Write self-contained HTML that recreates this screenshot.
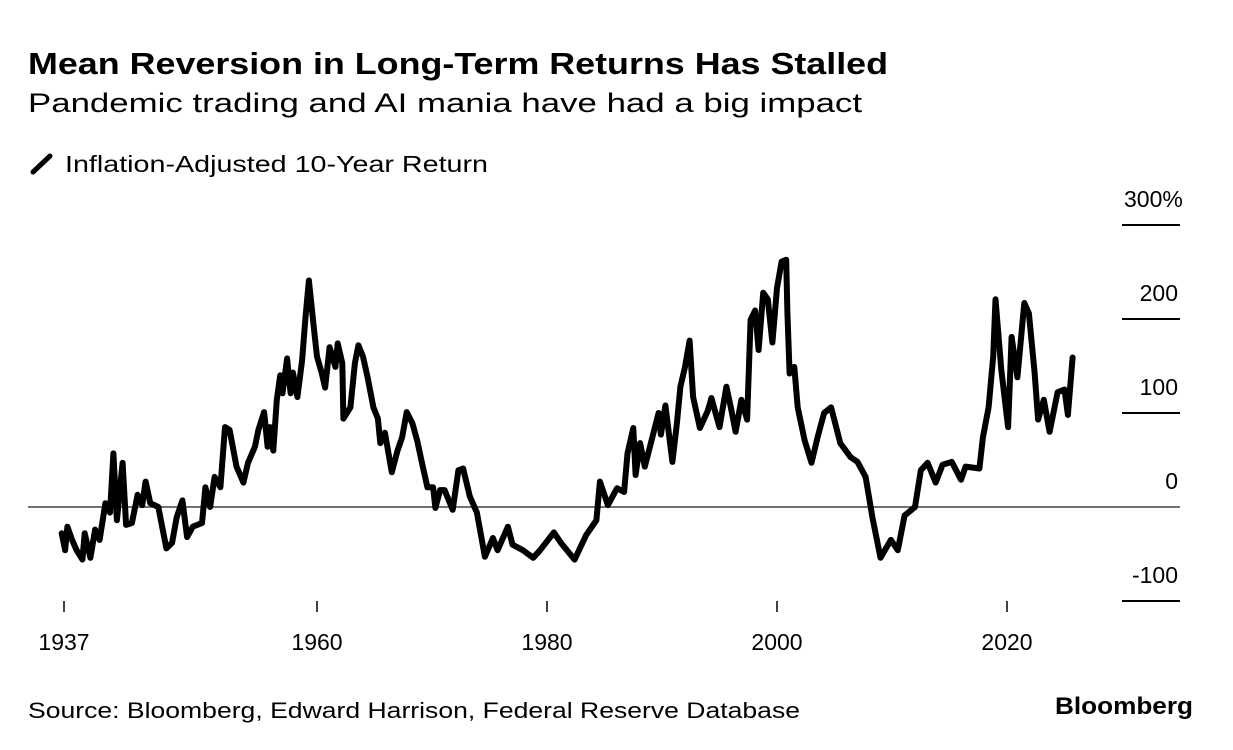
<!DOCTYPE html>
<html><head><meta charset="utf-8"><style>
html,body{margin:0;padding:0;background:#fff;}
svg{display:block;font-family:"Liberation Sans",Arial,sans-serif;}
</style></head><body>
<svg id="chart" width="1233" height="750" viewBox="0 0 1233 750" xmlns="http://www.w3.org/2000/svg">
<text x="28" y="74" font-size="31" font-weight="bold" fill="#000" textLength="860" lengthAdjust="spacingAndGlyphs">Mean Reversion in Long-Term Returns Has Stalled</text>
<text x="28" y="112" font-size="27" fill="#000" textLength="834" lengthAdjust="spacingAndGlyphs">Pandemic trading and AI mania have had a big impact</text>
<g>
<line x1="33" y1="172" x2="50" y2="156" stroke="#000" stroke-width="5" stroke-linecap="round"/>
<text x="65" y="172" font-size="23" fill="#000" textLength="423" lengthAdjust="spacingAndGlyphs">Inflation-Adjusted 10-Year Return</text>
</g>
<g id="yaxis"></g>
<g id="xaxis"></g>
<g id="plot"></g>
<text x="28" y="718" font-size="22" fill="#000" textLength="772" lengthAdjust="spacingAndGlyphs">Source: Bloomberg, Edward Harrison, Federal Reserve Database</text>
<text x="1055" y="714" font-size="24" font-weight="bold" fill="#000" textLength="138" lengthAdjust="spacingAndGlyphs">Bloomberg</text>
</svg>
<script>
const years = [1937.8,1938.1,1938.3,1938.7,1939.1,1939.6,1939.8,1940.3,1940.7,1941.1,1941.6,1942.0,1942.3,1942.6,1943.1,1943.4,1943.9,1944.4,1944.8,1945.1,1945.5,1946.2,1946.9,1947.4,1947.8,1948.3,1948.7,1949.2,1950.0,1950.3,1950.7,1951.1,1951.6,1952.0,1952.4,1953.0,1953.6,1954.0,1954.6,1954.9,1955.4,1955.7,1955.9,1956.2,1956.5,1956.8,1957.0,1957.4,1957.7,1957.9,1958.3,1958.7,1959.0,1959.3,1959.7,1960.0,1960.4,1960.7,1961.1,1961.6,1961.8,1962.2,1962.3,1962.9,1963.3,1963.6,1964.0,1964.4,1964.9,1965.3,1965.5,1965.9,1966.5,1967.0,1967.4,1967.8,1968.3,1968.7,1969.2,1969.6,1970.1,1970.3,1970.7,1971.1,1971.8,1972.3,1972.7,1973.3,1973.9,1974.6,1975.3,1975.7,1976.6,1977.0,1977.9,1978.8,1979.4,1980.6,1981.2,1982.4,1983.4,1984.3,1984.6,1985.3,1986.1,1986.7,1987.0,1987.5,1987.7,1988.1,1988.5,1989.1,1989.7,1989.9,1990.3,1990.9,1991.3,1991.6,1992.0,1992.4,1992.7,1993.3,1994.0,1994.3,1995.0,1995.6,1996.0,1996.4,1996.9,1997.4,1997.7,1998.1,1998.4,1998.8,1999.2,1999.6,2000.0,2000.4,2000.8,2000.9,2001.1,2001.5,2001.8,2002.4,2003.0,2003.5,2004.1,2004.7,2005.5,2006.4,2007.0,2007.7,2008.3,2009.0,2009.9,2010.5,2011.1,2012.0,2012.5,2013.1,2013.8,2014.4,2015.2,2016.0,2016.4,2017.6,2017.9,2018.4,2018.8,2019.0,2019.5,2020.1,2020.4,2020.9,2021.5,2021.9,2022.4,2022.7,2023.2,2023.7,2024.4,2025.0,2025.3,2025.7];
const returns = [-28,-46,-21,-35,-46,-56,-28,-54,-24,-35,4,-6,57,-14,47,-19,-17,13,2,27,4,0,-44,-38,-11,7,-32,-21,-17,21,0,32,21,85,82,43,26,47,64,82,101,64,85,60,114,140,121,158,121,143,117,156,202,241,193,160,143,127,170,149,174,153,94,106,153,172,160,138,106,94,68,79,37,60,74,101,89,71,43,21,21,-1,18,18,-3,39,41,11,-6,-53,-33,-46,-21,-40,-46,-54,-46,-27,-38,-56,-30,-14,27,2,20,16,57,84,34,68,43,71,100,77,108,48,89,128,149,177,117,84,103,116,85,128,105,80,114,93,199,209,167,228,221,175,233,261,263,207,142,149,106,71,47,73,100,106,68,53,48,32,-11,-54,-35,-46,-9,0,39,47,26,45,48,29,43,41,74,106,160,221,146,85,181,138,217,206,143,93,114,80,122,125,98,159];
const yTickValues = [300,200,100,0,-100];
const yTickLabels = ["300%","200","100","0","-100"];
const xTickValues = [1938,1960,1980,2000,2020];
const xTickLabels = ["1937","1960","1980","2000","2020"];

const NS = "http://www.w3.org/2000/svg";
function xScale(y){ return 317 + (y - 1960) * 11.5; }
function yScale(v){ return 507 - v * 0.94; }
function mk(tag, attrs, parent){ const e=document.createElementNS(NS,tag); for(const k in attrs) e.setAttribute(k,attrs[k]); parent.appendChild(e); return e; }

const yaxis = document.getElementById('yaxis');
yTickValues.forEach((v,i)=>{
  const y = yScale(v);
  const ln = mk('line',{x1: v===0?28:1122, x2:1180, y1:y, y2:y, stroke: v===0?'#444':'#000', 'stroke-width': v===0?1.5:2}, yaxis);
  
  
  const lab = yTickLabels[i];
  const isPct = lab.endsWith('%');
  const t = mk('text',{x: isPct?1124:1178, y: y-18, 'font-size':23, fill:'#000', 'text-anchor': isPct?'start':'end'}, yaxis);
  t.textContent = lab;
  
  
});

const xaxis = document.getElementById('xaxis');
xTickValues.forEach((v,i)=>{
  const x = xScale(v);
  const tk = mk('line',{x1:x,x2:x,y1:601,y2:612,stroke:'#000','stroke-width':1.5}, xaxis);
  
  
  const t = mk('text',{x:x, y:650, 'font-size':23, fill:'#000', 'text-anchor':'middle'}, xaxis);
  t.textContent = xTickLabels[i];
  
  
});

const plot = document.getElementById('plot');
let d = '';
years.forEach((yr,i)=>{ d += (i?'L':'M') + xScale(yr).toFixed(1) + ' ' + yScale(returns[i]).toFixed(1) + ' '; });
const path = mk('path',{d:d, fill:'none', stroke:'#000', 'stroke-width':6, 'stroke-linejoin':'round', 'stroke-linecap':'round'}, plot);


</script>
</body></html>
